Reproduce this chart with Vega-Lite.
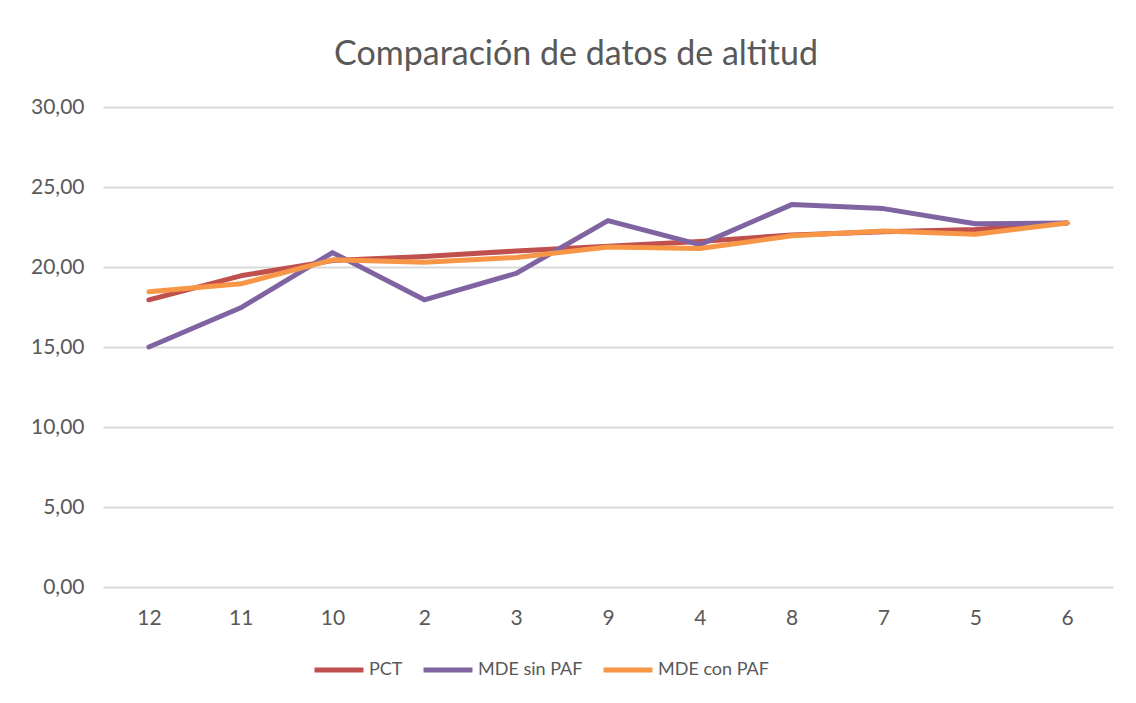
{
  "$schema": "https://vega.github.io/schema/vega-lite/v6.json",
  "autosize": "none",
  "width": 1010,
  "height": 480,
  "padding": {"left": 103, "top": 107, "right": 23, "bottom": 116},
  "background": "white",
  "title": {
    "text": "Comparación de datos de altitud",
    "font": "Lato",
    "fontSize": 34,
    "fontWeight": "normal",
    "color": "#595959",
    "anchor": "middle",
    "dx": -32,
    "offset": 24
  },
  "data": {
    "values": [
      {"Punto": "12", "Serie": "PCT", "Altitud": 17.95},
      {"Punto": "11", "Serie": "PCT", "Altitud": 19.45},
      {"Punto": "10", "Serie": "PCT", "Altitud": 20.4},
      {"Punto": "2", "Serie": "PCT", "Altitud": 20.65},
      {"Punto": "3", "Serie": "PCT", "Altitud": 21.0},
      {"Punto": "9", "Serie": "PCT", "Altitud": 21.3},
      {"Punto": "4", "Serie": "PCT", "Altitud": 21.6},
      {"Punto": "8", "Serie": "PCT", "Altitud": 22.0},
      {"Punto": "7", "Serie": "PCT", "Altitud": 22.2},
      {"Punto": "5", "Serie": "PCT", "Altitud": 22.35},
      {"Punto": "6", "Serie": "PCT", "Altitud": 22.75},
      {"Punto": "12", "Serie": "MDE sin PAF", "Altitud": 15.0},
      {"Punto": "11", "Serie": "MDE sin PAF", "Altitud": 17.45},
      {"Punto": "10", "Serie": "MDE sin PAF", "Altitud": 20.9},
      {"Punto": "2", "Serie": "MDE sin PAF", "Altitud": 17.95},
      {"Punto": "3", "Serie": "MDE sin PAF", "Altitud": 19.6},
      {"Punto": "9", "Serie": "MDE sin PAF", "Altitud": 22.9},
      {"Punto": "4", "Serie": "MDE sin PAF", "Altitud": 21.4},
      {"Punto": "8", "Serie": "MDE sin PAF", "Altitud": 23.9},
      {"Punto": "7", "Serie": "MDE sin PAF", "Altitud": 23.65},
      {"Punto": "5", "Serie": "MDE sin PAF", "Altitud": 22.7},
      {"Punto": "6", "Serie": "MDE sin PAF", "Altitud": 22.75},
      {"Punto": "12", "Serie": "MDE con PAF", "Altitud": 18.45},
      {"Punto": "11", "Serie": "MDE con PAF", "Altitud": 18.95},
      {"Punto": "10", "Serie": "MDE con PAF", "Altitud": 20.45},
      {"Punto": "2", "Serie": "MDE con PAF", "Altitud": 20.3},
      {"Punto": "3", "Serie": "MDE con PAF", "Altitud": 20.6},
      {"Punto": "9", "Serie": "MDE con PAF", "Altitud": 21.25},
      {"Punto": "4", "Serie": "MDE con PAF", "Altitud": 21.15},
      {"Punto": "8", "Serie": "MDE con PAF", "Altitud": 21.95},
      {"Punto": "7", "Serie": "MDE con PAF", "Altitud": 22.25},
      {"Punto": "5", "Serie": "MDE con PAF", "Altitud": 22.05},
      {"Punto": "6", "Serie": "MDE con PAF", "Altitud": 22.75}
    ]
  },
  "mark": {"type": "line", "strokeWidth": 5, "strokeCap": "round", "strokeJoin": "round"},
  "encoding": {
    "x": {
      "field": "Punto",
      "type": "ordinal",
      "sort": ["12", "11", "10", "2", "3", "9", "4", "8", "7", "5", "6"],
      "scale": {"type": "point", "padding": 0.5},
      "axis": {
        "title": null,
        "domain": false,
        "ticks": false,
        "grid": false,
        "labelAngle": 0,
        "labelFont": "Lato",
        "labelFontSize": 21,
        "labelColor": "#595959",
        "labelPadding": 20
      }
    },
    "y": {
      "field": "Altitud",
      "type": "quantitative",
      "scale": {"domain": [0, 30], "nice": false},
      "axis": {
        "title": null,
        "values": [0, 5, 10, 15, 20, 25, 30],
        "domain": false,
        "ticks": false,
        "grid": true,
        "gridColor": "#D9D9D9",
        "gridWidth": 1.8,
        "labelExpr": "replace(format(datum.value, '.2f'), '.', ',')",
        "labelFont": "Lato",
        "labelFontSize": 21,
        "labelColor": "#595959",
        "labelPadding": 19
      }
    },
    "color": {
      "field": "Serie",
      "type": "nominal",
      "sort": ["PCT", "MDE sin PAF", "MDE con PAF"],
      "scale": {"domain": ["PCT", "MDE sin PAF", "MDE con PAF"], "range": ["#C0504D", "#8064A2", "#F79646"]},
      "legend": {
        "title": null,
        "orient": "none",
        "legendX": 209,
        "legendY": 536,
        "direction": "horizontal",
        "symbolType": "stroke",
        "symbolStrokeWidth": 5,
        "symbolSize": 2400,
        "labelFont": "Lato",
        "labelFontSize": 18,
        "labelColor": "#595959",
        "labelOffset": 3,
        "columnPadding": 10
      }
    }
  },
  "config": {
    "view": {"stroke": null}
  }
}
